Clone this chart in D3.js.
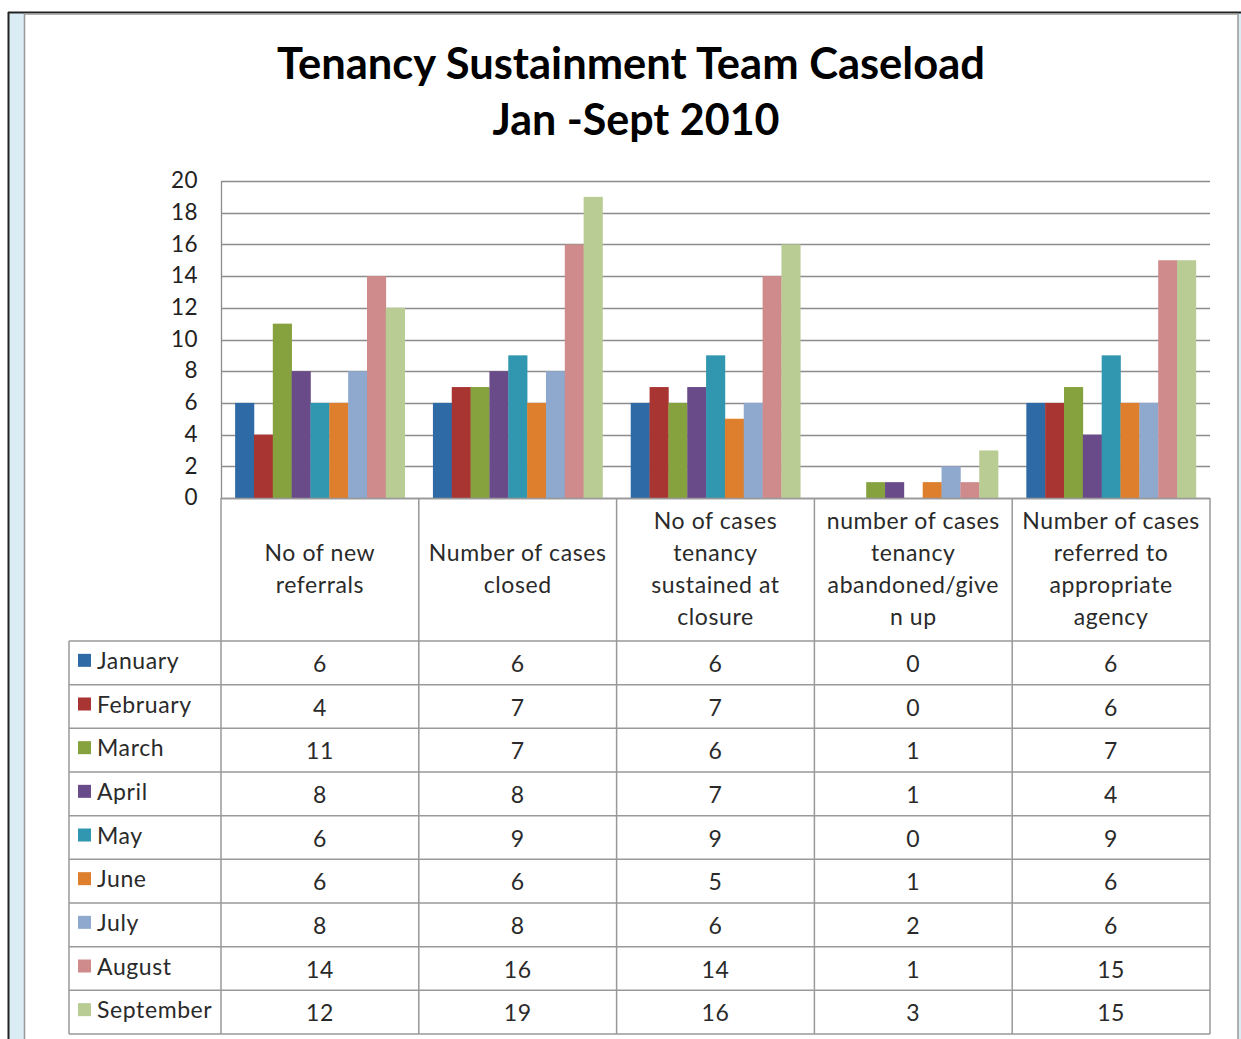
<!DOCTYPE html>
<html><head><meta charset="utf-8">
<script src="https://cdn.jsdelivr.net/npm/d3@7"></script>
<style>body{margin:0;background:#fff}svg{display:block}</style>
</head><body>
<script>
const title = ["Tenancy Sustainment Team Caseload", "Jan -Sept 2010"];
const categories = [
  ["No of new", "referrals"],
  ["Number of cases", "closed"],
  ["No of cases", "tenancy", "sustained at", "closure"],
  ["number of cases", "tenancy", "abandoned/give", "n up"],
  ["Number of cases", "referred to", "appropriate", "agency"]
];
const months = ["January","February","March","April","May","June","July","August","September"];
const colors = ["#2E6BA6","#A83532","#86A23F","#6A4B8A","#3196AF","#DE7F2D","#8EA8CE","#CF8B8C","#B8CC93"];
const January   = [6,6,6,0,6];
const February  = [4,7,7,0,6];
const March     = [11,7,6,1,7];
const April     = [8,8,7,1,4];
const May       = [6,9,9,0,9];
const June      = [6,6,5,1,6];
const July      = [8,8,6,2,6];
const August    = [14,16,14,1,15];
const September = [12,19,16,3,15];
const series = [January,February,March,April,May,June,July,August,September];
const yTicks = [0,2,4,6,8,10,12,14,16,18,20];

(function(){
const W = 1241, H = 1039;
const svg = d3.select("body").append("svg").attr("width", W).attr("height", H);
const font = "Lato, 'Open Sans', sans-serif";

// frame
svg.append("rect").attr("x",8).attr("y",12).attr("width",16).attr("height",H).attr("fill","#DAEDF4");
svg.append("rect").attr("x",1238).attr("y",12).attr("width",3).attr("height",H).attr("fill","#DAEDF4");
svg.append("line").attr("x1",8).attr("x2",W).attr("y1",12.5).attr("y2",12.5).attr("stroke","#222").attr("stroke-width",2);
svg.append("line").attr("x1",8.5).attr("x2",8.5).attr("y1",12).attr("y2",H).attr("stroke","#222").attr("stroke-width",2);
svg.append("line").attr("x1",24.5).attr("x2",1238).attr("y1",14).attr("y2",14).attr("stroke","#999").attr("stroke-width",1.5);
svg.append("line").attr("x1",24.5).attr("x2",24.5).attr("y1",14).attr("y2",H).attr("stroke","#999").attr("stroke-width",1.5);
svg.append("line").attr("x1",1238).attr("x2",1238).attr("y1",14).attr("y2",H).attr("stroke","#999").attr("stroke-width",1.5);

// title
svg.append("text").attr("x",631).attr("y",79).attr("text-anchor","middle")
  .attr("font-family",font).attr("font-weight","bold").attr("font-size",43.5).attr("fill","#000").text(title[0]);
svg.append("text").attr("x",636).attr("y",135).attr("text-anchor","middle")
  .attr("font-family",font).attr("font-weight","bold").attr("font-size",43).attr("fill","#000").text(title[1]);

const pL = 221, pR = 1210, pT = 181, pB = 498;
const x0 = d3.scaleBand().domain(d3.range(categories.length)).range([pL,pR]).paddingInner(0).paddingOuter(0);
const bw = x0.bandwidth();
const barW = bw/10.5, barOff = barW*0.75;
const y = d3.scaleLinear().domain([0,20]).range([pB, pT]);

const gridC = "#8c8c8c";
svg.append("g").selectAll("line").data(yTicks).join("line")
  .attr("x1",pL).attr("x2",pR).attr("y1",d=>Math.round(y(d))+0.5).attr("y2",d=>Math.round(y(d))+0.5)
  .attr("stroke",gridC).attr("stroke-width",1.3);
const yAxis = d3.axisLeft(y).tickValues(yTicks).tickSize(0).tickPadding(0);
const ya = svg.append("g").attr("transform",`translate(198,0)`).call(yAxis);
ya.select(".domain").remove();
ya.selectAll("text").attr("font-family",font).attr("font-size",22.5).attr("letter-spacing","0.5px").attr("fill","#222").attr("dy","0.3em");
svg.append("line").attr("x1",pL+0.5).attr("x2",pL+0.5).attr("y1",pT).attr("y2",pB).attr("stroke",gridC).attr("stroke-width",1.3);

const g = svg.append("g");
series.forEach((s,i)=>{
  g.selectAll(null).data(s).join("rect")
    .attr("x",(d,c)=>x0(c)+barOff+i*barW)
    .attr("y",d=>y(d))
    .attr("width",barW+0.3)
    .attr("height",d=>y(0)-y(d))
    .attr("fill",colors[i]);
});

const tLeft = 69, headerBottom = 641, rowH = (1034-641)/9;
const lineC = "#999";
const fs = 23, ls = "0.6px", tc = "#2a2a2a";
const tg = svg.append("g");
tg.append("line").attr("x1",pL).attr("x2",pR).attr("y1",pB+0.5).attr("y2",pB+0.5).attr("stroke",lineC).attr("stroke-width",1.5);
d3.range(10).forEach(r=>{
  const yy = headerBottom + r*rowH;
  tg.append("line").attr("x1",tLeft).attr("x2",pR).attr("y1",yy).attr("y2",yy).attr("stroke",lineC).attr("stroke-width",1.5);
});
tg.append("line").attr("x1",tLeft).attr("x2",tLeft).attr("y1",headerBottom).attr("y2",1034).attr("stroke",lineC).attr("stroke-width",1.5);
d3.range(6).forEach(c=>{
  const xx = pL + c*bw;
  tg.append("line").attr("x1",xx).attr("x2",xx).attr("y1",pB).attr("y2",1034).attr("stroke",lineC).attr("stroke-width",1.5);
});
categories.forEach((lines,c)=>{
  const cx = x0(c)+bw/2, cy = (pB+headerBottom)/2;
  const lh = 32;
  lines.forEach((t,k)=>{
    tg.append("text").attr("x",cx).attr("y",cy + (k-(lines.length-1)/2)*lh - 1).attr("dy","0.35em")
      .attr("text-anchor","middle").attr("font-family",font).attr("font-size",fs).attr("letter-spacing",ls).attr("fill",tc).text(t);
  });
});
months.forEach((m,i)=>{
  const cy = headerBottom + i*rowH + rowH/2;
  tg.append("rect").attr("x",78).attr("y",cy-9).attr("width",13).attr("height",13).attr("fill",colors[i]);
  tg.append("text").attr("x",97).attr("y",cy-2).attr("dy","0.35em").attr("font-family",font).attr("font-size",fs).attr("letter-spacing",ls).attr("fill",tc).text(m);
  series[i].forEach((v,c)=>{
    tg.append("text").attr("x",x0(c)+bw/2).attr("y",cy+1).attr("dy","0.35em").attr("text-anchor","middle")
      .attr("font-family",font).attr("font-size",fs).attr("letter-spacing",ls).attr("fill",tc).text(v);
  });
});
})();
</script>
</body></html>
